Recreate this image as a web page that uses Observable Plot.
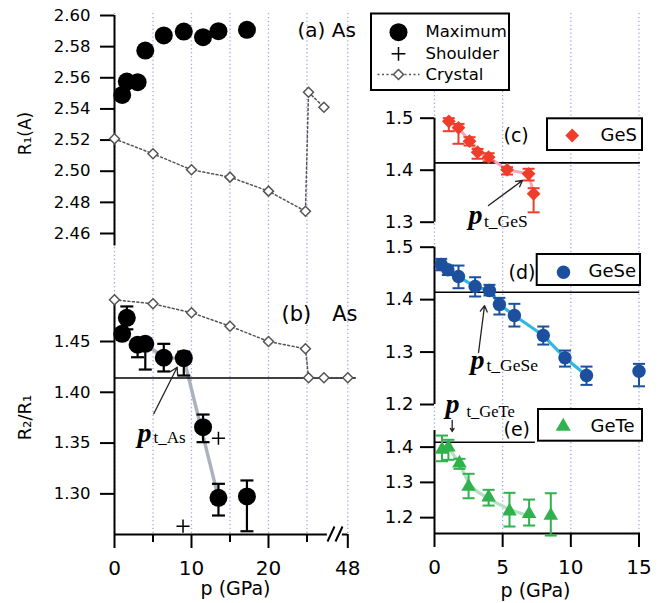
<!DOCTYPE html>
<html><head><meta charset="utf-8">
<script src="https://cdn.jsdelivr.net/npm/d3@7"></script>
<script src="https://cdn.jsdelivr.net/npm/@observablehq/plot@0.6"></script>
<style>
body{margin:0;background:#fff;}
#chart{position:relative;width:661px;height:603px;overflow:hidden;background:#fff;}
#chart svg{position:absolute;left:0;top:0;background:transparent !important;}
</style></head><body><div id="chart"></div>
<script>
// ---------------- data ----------------
// (a)/(b) As
const asP = [1.0, 1.6, 3.0, 4.0, 6.4, 9.0, 11.5, 13.5, 17.2];
const asR1Max = [2.549, 2.5576, 2.5572, 2.5775, 2.5872, 2.5897, 2.5861, 2.5899, 2.5908];
const asRatioMax = [1.4576, 1.4733, 1.4468, 1.4477, 1.434, 1.4336, 1.3656, 1.2961, 1.2975];
const asRatioLo  = [1.4576, 1.462, 1.4345, 1.4224, 1.4205, 1.4165, 1.3509, 1.2787, 1.2632];
const asRatioHi  = [1.4576, 1.4845, 1.4468, 1.451, 1.4477, 1.440, 1.3781, 1.3099, 1.3132];
const asShoulderP = [13.5, 8.9];
const asShoulderRatio = [1.3548, 1.2682];
const asTrendP = [4.0, 6.4, 9.0, 13.5];
const asTrendRatio = [1.4477, 1.434, 1.4336, 1.2961];
const crystalR1P = [0, 5, 10, 15, 20, 24.8, 25.2, 27.2];
const crystalR1 = [2.5208, 2.5112, 2.5009, 2.4962, 2.4872, 2.4743, 2.5507, 2.5411];
const crystalRatioP = [0, 5, 10, 15, 20, 24.8, 25.2, 27.2, 48];
const crystalRatio = [1.4911, 1.4871, 1.4783, 1.4651, 1.450, 1.4428, 1.4143, 1.4143, 1.4143];
// (c) GeS
const gesP  = [1.05, 1.76, 2.57, 3.16, 3.97, 5.32, 6.9, 7.27];
const gesR  = [1.494, 1.4815, 1.4558, 1.4346, 1.425, 1.4008, 1.393, 1.3546];
const gesLo = [1.475, 1.4508, 1.4475, 1.422, 1.417, 1.3917, 1.3802, 1.319];
const gesHi = [1.500, 1.489, 1.4635, 1.441, 1.4327, 1.4058, 1.4027, 1.3654];
// (d) GeSe
const geseP  = [0.49, 0.98, 1.76, 2.98, 4.03, 4.76, 5.86, 7.98, 9.57, 11.15, 15.0];
const geseR  = [1.467, 1.457, 1.444, 1.425, 1.4174, 1.3907, 1.3697, 1.3315, 1.289, 1.2552, 1.2634];
const geseLo = [1.456, 1.447, 1.4218, 1.406, 1.408, 1.3716, 1.3487, 1.3143, 1.2723, 1.2374, 1.2347];
const geseHi = [1.4777, 1.465, 1.465, 1.4427, 1.4282, 1.4034, 1.392, 1.3487, 1.3029, 1.2723, 1.2775];
const geseTrendP = [1.76, 2.98, 4.03, 4.76, 5.86, 7.98, 9.57, 11.15];
const geseTrendR = [1.444, 1.425, 1.4174, 1.3907, 1.3697, 1.3315, 1.289, 1.2552];
// (e) GeTe
const geteP  = [0.55, 1.02, 1.83, 2.5, 3.97, 5.5, 6.94, 8.53];
const geteR  = [1.393, 1.3995, 1.3543, 1.2882, 1.2579, 1.2182, 1.2108, 1.206];
const geteLo = [1.36, 1.364, 1.3384, 1.255, 1.2343, 1.1748, 1.1776, 1.1492];
const geteHi = [1.4329, 1.4207, 1.3668, 1.3243, 1.2789, 1.2704, 1.2513, 1.2692];
const geteTrendP = [1.0, 1.83, 2.5, 3.97, 5.5, 6.94];
const geteTrendR = [1.40, 1.352, 1.30, 1.255, 1.224, 1.205];
// ticks and reference
const leftGridP = [0, 5, 10, 15, 20, 25, 48];
const rightGridP = [0, 5, 10, 15];
const r1Ticks = [2.46, 2.48, 2.50, 2.52, 2.54, 2.56, 2.58, 2.60];
const ratioTicksB = [1.30, 1.35, 1.40, 1.45];
const leftXTicks = [0, 10, 20, 48];
const leftXMinor = [5, 15, 25];
const gesTicks = [1.3, 1.4, 1.5];
const geseTicks = [1.2, 1.3, 1.4, 1.5];
const geteTicks = [1.2, 1.3, 1.4];
const rightXTicks = [0, 5, 10, 15];
const sqrt2 = 1.414;
const legendAs = ["Maximum", "Shoulder", "Crystal"];

// ---------------- helpers ----------------
const W = 661, H = 603;
const FONT = "DejaVu Sans", SERIF = "Liberation Serif";
const brk = p => (p > 30 ? 30.3 : p);           // broken axis: 48 GPa drawn after the break
const leftLabel = new Map(leftXTicks.map(t => [brk(t), String(t)]));
const baseStyle = {background: "transparent", overflow: "visible", fontFamily: FONT, maxWidth: "none"};
const mk = o => Plot.plot({width: W, height: H, style: baseStyle, ...o});
const cap = {draw(ctx, size) { const w = Math.sqrt(size / Math.PI); ctx.moveTo(-w, 0); ctx.lineTo(w, 0); }};
const xLeft = {domain: [0, 30.3], range: [114, 347.3]};
const xRight = {domain: [0, 15], range: [434, 638.5]};
const tbl = (P, R, Lo, Hi) => P.map((p, i) => ({p, r: R[i], lo: Lo ? Lo[i] : null, hi: Hi ? Hi[i] : null}));
const errMarks = (data, color, w, capR) => [
  Plot.ruleX(data, {x: "p", y1: "lo", y2: "hi", stroke: color, strokeWidth: w}),
  Plot.dot(data, {x: "p", y: "lo", symbol: cap, r: capR, stroke: color, fill: "none", strokeWidth: w}),
  Plot.dot(data, {x: "p", y: "hi", symbol: cap, r: capR, stroke: color, fill: "none", strokeWidth: w})
];
const gridStyle = {stroke: "#9fa9ec", strokeWidth: 1.3, strokeDasharray: "1.3,2.6"};

const asMaxA = asP.map((p, i) => ({p: brk(p), r: asR1Max[i]}));
const asMaxB = asP.map((p, i) => ({p: brk(p), r: asRatioMax[i], lo: asRatioLo[i], hi: asRatioHi[i]}));
const asSh = asShoulderP.map((p, i) => ({p, r: asShoulderRatio[i]}));
const asTr = asTrendP.map((p, i) => ({p, r: asTrendRatio[i]}));
const crA = crystalR1P.map((p, i) => ({p: brk(p), r: crystalR1[i]}));
const crB = crystalRatioP.map((p, i) => ({p: brk(p), r: crystalRatio[i]}));
const ges = tbl(gesP, gesR, gesLo, gesHi);
const gese = tbl(geseP, geseR, geseLo, geseHi);
const geseTr = tbl(geseTrendP, geseTrendR);
const gete = tbl(geteP, geteR, geteLo, geteHi);
const geteTr = tbl(geteTrendP, geteTrendR);

const RED = "#ef3d2b", BLUE = "#1d4f9f", GREEN = "#2fb24c", GRAYC = "#555";
const plots = [];

// grids
plots.push(mk({marginTop: 13, marginBottom: H - 534, marginLeft: 0, marginRight: 0,
  x: {...xLeft, axis: null},
  marks: [Plot.ruleX(leftGridP, {x: brk, ...gridStyle})]}));
plots.push(mk({marginTop: 13, marginBottom: H - 533, marginLeft: 0, marginRight: 0,
  x: {...xRight, axis: null},
  marks: [Plot.ruleX(rightGridP, {x: d => d, ...gridStyle})]}));

// (a)
plots.push(mk({marginLeft: 114, marginTop: 15, marginBottom: 300, marginRight: 0,
  x: {...xLeft, axis: null},
  y: {domain: [2.46, 2.60], range: [233, 15]},
  marks: [
    Plot.ruleX([0], {y1: 2.60, y2: 2.452, strokeWidth: 2}),
    Plot.axisY({ticks: r1Ticks, tickSize: 14, tickPadding: 10, tickFormat: ".2f", fontSize: 16.5, strokeWidth: 2, label: null}),
    Plot.line(crA, {x: "p", y: "r", stroke: GRAYC, strokeWidth: 1.5, strokeDasharray: "2,2.5"}),
    Plot.dot(crA, {x: "p", y: "r", symbol: "diamond2", r: 4.5, stroke: GRAYC, fill: "white", strokeWidth: 1.5}),
    Plot.dot(asMaxA, {x: "p", y: "r", r: 9, fill: "#000", stroke: "none"})
  ]}));

// (b)
plots.push(mk({marginLeft: 114, marginTop: 290, marginBottom: H - 534, marginRight: 0,
  x: {...xLeft},
  y: {domain: [1.26, 1.45], range: [534, 341]},
  marks: [
    Plot.ruleX([0], {y1: 1.491, y2: 1.26, strokeWidth: 2}),
    Plot.ruleY([1.26], {x1: 0, x2: 27.65, strokeWidth: 2}),
    Plot.ruleY([1.26], {x1: 29.6, x2: 30.3, strokeWidth: 2}),
    Plot.ruleX(leftXMinor, {x: d => d, y1: 1.26, y2: 1.2521, strokeWidth: 2}),
    Plot.axisY({ticks: ratioTicksB, tickSize: 14, tickPadding: 10, tickFormat: ".2f", fontSize: 16.5, strokeWidth: 2, label: null}),
    Plot.axisX({ticks: leftXTicks.map(brk), tickSize: 14, tickPadding: 12, tickFormat: d => leftLabel.get(d), fontSize: 20, strokeWidth: 2, label: null}),
    Plot.line(asTr, {x: "p", y: "r", stroke: "#aab2bd", strokeWidth: 3.5}),
    Plot.ruleY([sqrt2], {x1: 0, x2: 31.4, stroke: "#000", strokeWidth: 1.6}),
    Plot.line(crB, {x: "p", y: "r", stroke: GRAYC, strokeWidth: 1.5, strokeDasharray: "2,2.5"}),
    Plot.dot(crB, {x: "p", y: "r", symbol: "diamond2", r: 4.5, stroke: GRAYC, fill: "white", strokeWidth: 1.5}),
    ...errMarks(asMaxB, "#000", 2.2, 6.5),
    Plot.dot(asMaxB, {x: "p", y: "r", r: 9, fill: "#000", stroke: "none"}),
    Plot.dot(asSh, {x: "p", y: "r", symbol: "plus", r: 4.3, stroke: "#000", fill: "none", strokeWidth: 1.5}),
    Plot.arrow([{x1: 5.1, y1: 1.3788, x2: 8.14, y2: 1.4247}], {x1: "x1", y1: "y1", x2: "x2", y2: "y2", stroke: "#222", strokeWidth: 1.3, headLength: 9})
  ]}));

// (c) GeS
plots.push(mk({marginLeft: 434, marginTop: 110, marginBottom: 370, marginRight: 0,
  x: {...xRight, axis: null},
  y: {domain: [1.3, 1.5], range: [221.7, 117.7]},
  marks: [
    Plot.ruleX([0], {y1: 1.5, y2: 1.3, strokeWidth: 2}),
    Plot.axisY({ticks: gesTicks, tickSize: 14, tickPadding: 7, tickFormat: ".1f", fontSize: 18, strokeWidth: 2, label: null}),
    Plot.ruleY([sqrt2], {x1: 0, x2: 15.1, stroke: "#000", strokeWidth: 1.6}),
    Plot.line(ges, {x: "p", y: "r", stroke: "#f6a5bf", strokeWidth: 3}),
    ...errMarks(ges, RED, 2, 6),
    Plot.dot(ges, {x: "p", y: "r", symbol: "diamond2", r: 6.2, fill: RED, stroke: "none"}),
    Plot.arrow([{x1: 3.96, y1: 1.332, x2: 6.45, y2: 1.3802}], {x1: "x1", y1: "y1", x2: "x2", y2: "y2", stroke: "#222", strokeWidth: 1.3, headLength: 8})
  ]}));

// (d) GeSe
plots.push(mk({marginLeft: 434, marginTop: 240, marginBottom: 190, marginRight: 0,
  x: {...xRight, axis: null},
  y: {domain: [1.2, 1.5], range: [404, 246.7]},
  marks: [
    Plot.ruleX([0], {y1: 1.5, y2: 1.2, strokeWidth: 2}),
    Plot.axisY({ticks: geseTicks, tickSize: 14, tickPadding: 7, tickFormat: ".1f", fontSize: 18, strokeWidth: 2, label: null}),
    Plot.ruleY([sqrt2], {x1: 0, x2: 15.05, stroke: "#000", strokeWidth: 1.6}),
    Plot.line(geseTr, {x: "p", y: "r", stroke: "#33b7e0", strokeWidth: 3.2}),
    ...errMarks(gese, BLUE, 2, 6),
    Plot.dot(gese, {x: "p", y: "r", r: 6.7, fill: BLUE, stroke: "none"}),
    Plot.arrow([{x1: 3.23, y1: 1.2992, x2: 3.67, y2: 1.3886}], {x1: "x1", y1: "y1", x2: "x2", y2: "y2", stroke: "#222", strokeWidth: 1.3, headLength: 8})
  ]}));

// (e) GeTe
plots.push(mk({marginLeft: 434, marginTop: 420, marginBottom: H - 533, marginRight: 0,
  x: {...xRight},
  y: {domain: [1.155, 1.45], range: [533, 429]},
  marks: [
    Plot.ruleX([0], {y1: 1.447, y2: 1.155, strokeWidth: 2}),
    Plot.ruleY([1.155], {x1: 0, x2: 15.1, strokeWidth: 2}),
    Plot.axisY({ticks: geteTicks, tickSize: 14, tickPadding: 7, tickFormat: ".1f", fontSize: 18, strokeWidth: 2, label: null}),
    Plot.axisX({ticks: rightXTicks, tickSize: 14, tickPadding: 12, tickFormat: d => String(d), fontSize: 20, strokeWidth: 2, label: null}),
    Plot.ruleY([sqrt2], {x1: 0, x2: 7.4, stroke: "#000", strokeWidth: 1.6}),
    Plot.line(geteTr, {x: "p", y: "r", stroke: "#b3e0c1", strokeWidth: 3.2, curve: "monotone-x"}),
    ...errMarks(gete, GREEN, 2, 6),
    Plot.dot(gete, {x: "p", y: "r", symbol: "triangle", r: 5.4, fill: GREEN, stroke: "none"}),
    Plot.arrow([{x1: 1.3, y1: 1.4755, x2: 1.3, y2: 1.4443}], {x1: "x1", y1: "y1", x2: "x2", y2: "y2", stroke: "#222", strokeWidth: 1.3, headLength: 6})
  ]}));

// ---------------- annotations (layout, pixel space) ----------------
const boxes = [
  {x1: 371, x2: 509, y1: 13.5, y2: 90},
  {x1: 547, x2: 642, y1: 118.3, y2: 150},
  {x1: 536.7, x2: 640, y1: 254, y2: 285},
  {x1: 538, x2: 642, y1: 409, y2: 440.7}
];
const T = (text, x, y, o = {}) => Plot.text([text], {x: () => x, y: () => y, text: d => d, textAnchor: "start", lineAnchor: "middle", fill: "#000", ...o});
plots.push(mk({margin: 0,
  x: {type: "identity", axis: null}, y: {type: "identity", axis: null},
  marks: [
    Plot.rect(boxes, {x1: "x1", x2: "x2", y1: "y1", y2: "y2", fill: "white", stroke: "#000", strokeWidth: 2}),
    // legend (a)
    Plot.dot([0], {x: () => 398, y: () => 31.7, r: 9, fill: "#000", stroke: "none"}),
    Plot.dot([0], {x: () => 398, y: () => 53.3, symbol: "plus", r: 4.5, stroke: "#000", fill: "none", strokeWidth: 1.5}),
    Plot.link([0], {x1: () => 377, x2: () => 419, y1: () => 74, y2: () => 74, stroke: GRAYC, strokeWidth: 1.5, strokeDasharray: "2,2.5"}),
    Plot.dot([0], {x: () => 398, y: () => 74, symbol: "diamond2", r: 4.5, stroke: GRAYC, fill: "white", strokeWidth: 1.5}),
    T(legendAs[0], 425, 31.5, {fontSize: 16.5}),
    T(legendAs[1], 425, 53, {fontSize: 16.5}),
    T(legendAs[2], 425, 74, {fontSize: 16.5}),
    // legends (c)(d)(e)
    Plot.dot([0], {x: () => 571.7, y: () => 135, symbol: "diamond2", r: 6.2, fill: RED, stroke: "none"}),
    T("GeS", 600, 134.5, {fontSize: 18}),
    Plot.dot([0], {x: () => 563, y: () => 271.7, r: 6.7, fill: BLUE, stroke: "none"}),
    T("GeSe", 588, 271, {fontSize: 18}),
    Plot.dot([0], {x: () => 562.7, y: () => 426, symbol: "triangle", r: 5.6, fill: GREEN, stroke: "none"}),
    T("GeTe", 590, 425.5, {fontSize: 18}),
    // panel labels
    T("(a) As", 297, 30, {fontSize: 20}),
    T("(b)\u2003As", 281, 314, {fontSize: 21}),
    T("(c)", 503, 135, {fontSize: 19}),
    T("(d)", 508, 272, {fontSize: 19}),
    T("(e)", 503, 429, {fontSize: 19}),
    // axis titles
    T("R\u2081(A)", 25, 133, {fontSize: 17, rotate: -90, textAnchor: "middle"}),
    T("R\u2082/R\u2081", 25, 417, {fontSize: 18, rotate: -90, textAnchor: "middle"}),
    T("p (GPa)", 235, 588, {fontSize: 19, textAnchor: "middle"}),
    T("p (GPa)", 535, 590, {fontSize: 19, textAnchor: "middle"}),
    // transition pressures
    T("p", 137, 441, {fontSize: 28, fontFamily: SERIF, fontWeight: "bold", fontStyle: "italic", lineAnchor: "bottom"}),
    T("t_As", 153, 442.5, {fontSize: 17, fontFamily: SERIF, lineAnchor: "bottom"}),
    T("p", 468, 223, {fontSize: 28, fontFamily: SERIF, fontWeight: "bold", fontStyle: "italic", lineAnchor: "bottom"}),
    T("t_GeS", 483.5, 226.5, {fontSize: 17.5, fontFamily: SERIF, lineAnchor: "bottom"}),
    T("p", 470, 368, {fontSize: 28, fontFamily: SERIF, fontWeight: "bold", fontStyle: "italic", lineAnchor: "bottom"}),
    T("t_GeSe", 486, 370.5, {fontSize: 17.5, fontFamily: SERIF, lineAnchor: "bottom"}),
    T("p", 445, 412.5, {fontSize: 28, fontFamily: SERIF, fontWeight: "bold", fontStyle: "italic", lineAnchor: "bottom"}),
    T("t_GeTe", 466, 416, {fontSize: 16.5, fontFamily: SERIF, lineAnchor: "bottom"}),
    // axis break marks
    Plot.link([{a: 327, b: 334}, {a: 335, b: 342}], {x1: "a", x2: "b", y1: () => 541, y2: () => 526, stroke: "#000", strokeWidth: 2})
  ]}));

const root = document.getElementById("chart");
plots.forEach(p => root.appendChild(p));
</script></body></html>
